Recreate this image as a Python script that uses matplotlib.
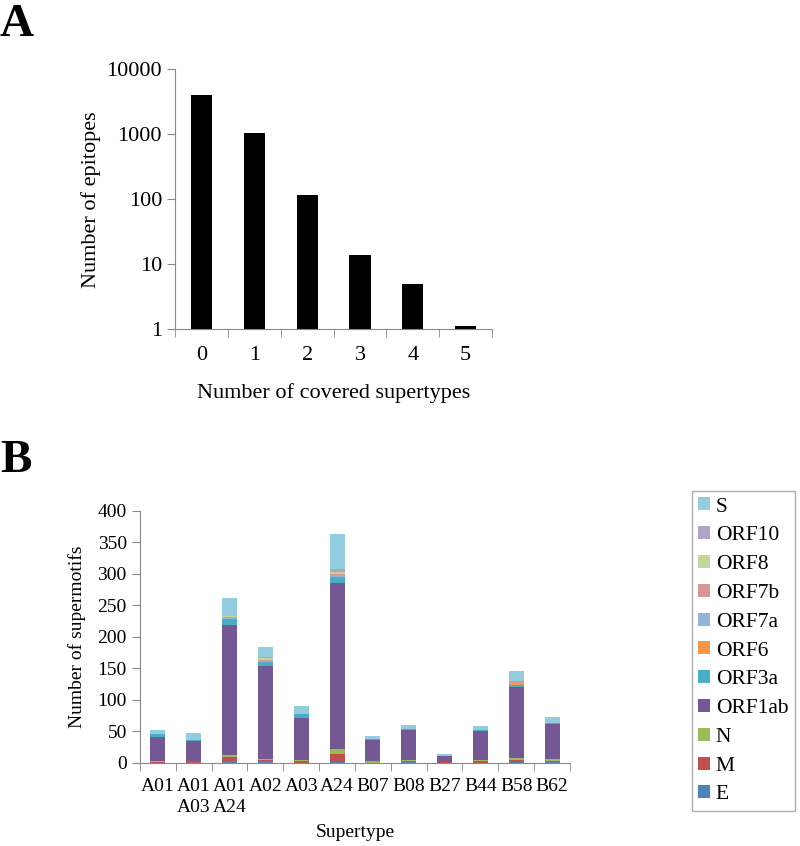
import numpy as np
import matplotlib.pyplot as plt

plt.rcParams['font.family'] = ['Liberation Serif', 'DejaVu Serif']

# Panel A data
covered = ['0', '1', '2', '3', '4', '5']
n_epitopes = [3980, 1050, 117, 13.7, 4.9, 1.1]

# Panel B data
supertypes = ['A01', 'A01\nA03', 'A01\nA24', 'A02', 'A03', 'A24',
              'B07', 'B08', 'B27', 'B44', 'B58', 'B62']
E = [0, 0, 2, 2, 0, 1, 0, 2, 0, 0, 1, 2]
M = [1, 2, 7.5, 2, 2, 12, 0, 0, 1, 3, 3, 0]
N = [1, 1, 2, 2, 2, 9, 2, 2, 0, 1, 3, 4]
ORF1ab = [39, 32, 207.5, 147, 67, 263, 34, 48, 9.5, 47, 113.6, 56]
ORF3a = [4, 1, 8.5, 6, 5.5, 9, 1, 1, 0, 1.5, 3, 1.5]
ORF6 = [0, 0, 1, 1, 0, 1, 0, 0, 0, 0, 2, 0]
ORF7a = [0, 0, 1, 2, 0, 3, 0, 0, 0, 0, 1, 0]
ORF7b = [0, 0, 1, 1, 0, 1, 0, 0, 0, 0, 1, 0]
ORF8 = [0, 0, 2, 3, 0, 4, 0, 0, 0, 0, 1, 0]
ORF10 = [0, 0, 0, 1, 0, 4, 0, 0, 0, 0, 1, 0]
S = [7, 10.6, 28.5, 17, 13, 56, 5, 7, 2.5, 5.5, 15.5, 8.5]

proteins = ['E', 'M', 'N', 'ORF1ab', 'ORF3a', 'ORF6', 'ORF7a', 'ORF7b', 'ORF8', 'ORF10', 'S']
series = [E, M, N, ORF1ab, ORF3a, ORF6, ORF7a, ORF7b, ORF8, ORF10, S]
colors = ['#4F81BD', '#C0504D', '#9BBB59', '#735893', '#4BACC6', '#F79646',
          '#95B3D7', '#D99694', '#C3D69B', '#B3A2C7', '#93CDDD']

fig = plt.figure(figsize=(8, 8.46), dpi=100)

# ---- Panel A ----
axA = fig.add_axes([0.219, 0.611, 0.396, 0.307])
xa = np.arange(len(covered))
axA.bar(xa, np.array(n_epitopes) - 1, bottom=1, width=0.4, color='black')
axA.set_yscale('log')
axA.set_ylim(1, 10000)
axA.set_xlim(-0.5, len(covered) - 0.5)
axA.set_yticks([1, 10, 100, 1000, 10000])
axA.set_yticklabels(['1', '10', '100', '1000', '10000'])
axA.minorticks_off()
axA.set_xticks(xa)
axA.set_xticklabels(covered)
axA.set_xticks(np.arange(-0.5, len(covered)), minor=True)
axA.tick_params(axis='x', which='major', length=0, labelsize=16, pad=12)
axA.tick_params(axis='x', which='minor', length=6, direction='out', color='#888888')
axA.tick_params(axis='y', length=6, direction='out', color='#888888', labelsize=16)
axA.set_ylabel('Number of epitopes', fontsize=16)
axA.set_xlabel('Number of covered supertypes', fontsize=16, labelpad=13)
for sp in ['top', 'right']:
    axA.spines[sp].set_visible(False)
for sp in ['left', 'bottom']:
    axA.spines[sp].set_color('#888888')

# ---- Panel B ----
axB = fig.add_axes([0.175, 0.0985, 0.5375, 0.298])
xb = np.arange(len(supertypes))
bottom = np.zeros(len(supertypes))
handles = []
for name, vals, c in zip(proteins, series, colors):
    h = axB.bar(xb, vals, bottom=bottom, width=0.42, color=c, label=name)
    handles.append(h)
    bottom += np.array(vals)
axB.set_ylim(0, 400)
axB.set_xlim(-0.5, len(supertypes) - 0.5)
axB.set_yticks(np.arange(0, 401, 50))
axB.set_xticks(xb)
axB.set_xticklabels(supertypes, va='top', linespacing=1.3)
axB.set_xticks(np.arange(-0.5, len(supertypes)), minor=True)
axB.tick_params(axis='x', which='major', length=0, labelsize=14, pad=11)
axB.tick_params(axis='x', which='minor', length=6, direction='out', color='#888888')
axB.tick_params(axis='y', length=6, direction='out', color='#888888', labelsize=14)
axB.set_ylabel('Number of supermotifs', fontsize=14, labelpad=8)
axB.set_xlabel('Supertype', fontsize=14, labelpad=6)
for sp in ['top', 'right']:
    axB.spines[sp].set_visible(False)
for sp in ['left', 'bottom']:
    axB.spines[sp].set_color('#888888')

leg = fig.legend(handles[::-1], proteins[::-1], loc='upper left',
                 bbox_to_anchor=(692 / 800, 1 - 491 / 846), bbox_transform=fig.transFigure,
                 borderaxespad=0, fontsize=15.5, handlelength=0.55, handleheight=0.55,
                 handletextpad=0.25, labelspacing=0.45, frameon=True, fancybox=False,
                 borderpad=0.3)
leg.get_frame().set_edgecolor('#999999')
leg.get_frame().set_linewidth(1.0)

fig.text(0.0, 0.995, 'A', fontsize=34, fontweight='bold', va='top', ha='left')
fig.text(0.0, 0.48, 'B', fontsize=34, fontweight='bold', va='top', ha='left')

fig.savefig('out.png', dpi=100)
